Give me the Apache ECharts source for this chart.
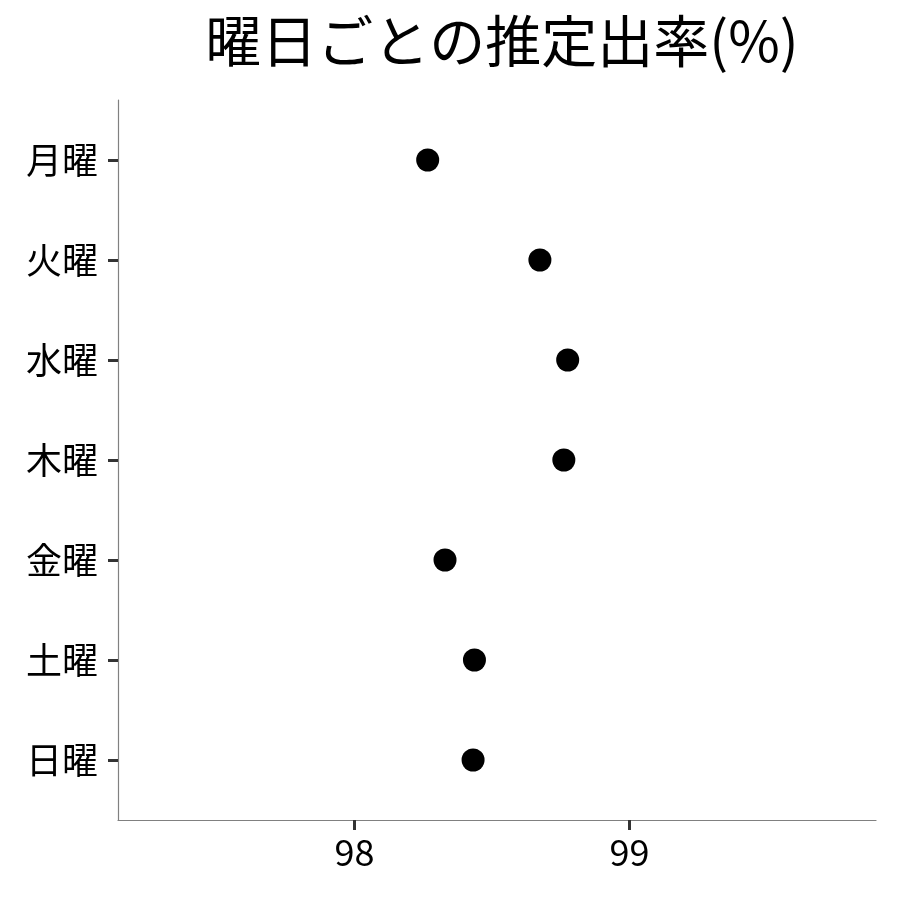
<!DOCTYPE html>
<html>
<head>
<meta charset="utf-8">
<script src="https://cdn.jsdelivr.net/npm/echarts@6/dist/echarts.min.js"></script>
<style>
html,body{margin:0;padding:0;background:#fff;}
#main{width:900px;height:900px;}
</style>
</head>
<body>
<div id="main"></div>
<script>
const titleText = '曜日ごとの推定出率(%)';
const categories = ['月曜', '火曜', '水曜', '木曜', '金曜', '土曜', '日曜'];
const rates = [98.266, 98.674, 98.775, 98.761, 98.329, 98.436, 98.431];
const xTicks = [98, 99];
const yTicks = [0, 1, 2, 3, 4, 5, 6];

const FONT = '"Noto Sans CJK JP", "Noto Sans", sans-serif';
const points = rates.map((v, i) => [v, i]);

const chart = echarts.init(document.getElementById('main'), null, {renderer: 'canvas'});
chart.setOption({
  backgroundColor: '#ffffff',
  animation: false,
  title: {
    text: titleText,
    left: 497,
    top: 8,
    textAlign: 'center',
    textStyle: {fontFamily: FONT, fontSize: 56, fontWeight: 'normal', color: '#000'}
  },
  grid: {left: 118, right: 24, top: 100, bottom: 80, containLabel: false, outerBoundsMode: 'none'},
  xAxis: {
    type: 'value',
    min: 97.14,
    max: 99.896,
    splitLine: {show: false},
    axisLine: {show: true, onZero: false, lineStyle: {color: '#808080', width: 1.2}},
    axisTick: {show: true, customValues: xTicks, length: 10, lineStyle: {color: '#333', width: 3}},
    axisLabel: {customValues: xTicks, margin: 14, fontFamily: FONT, fontSize: 36, color: '#000'}
  },
  yAxis: {
    type: 'value',
    min: -0.6,
    max: 6.6,
    inverse: true,
    splitLine: {show: false},
    axisLine: {show: true, onZero: false, lineStyle: {color: '#808080', width: 1.2}},
    axisTick: {show: true, customValues: yTicks, length: 10, lineStyle: {color: '#333', width: 3}},
    axisLabel: {
      customValues: yTicks, margin: 20, fontFamily: FONT, fontSize: 36, color: '#000',
      formatter: v => categories[Math.round(v)] || ''
    }
  },
  series: [{
    type: 'scatter',
    data: points,
    symbol: 'circle',
    symbolSize: 23,
    itemStyle: {color: '#000', opacity: 1}
  }]
});
</script>
</body>
</html>
